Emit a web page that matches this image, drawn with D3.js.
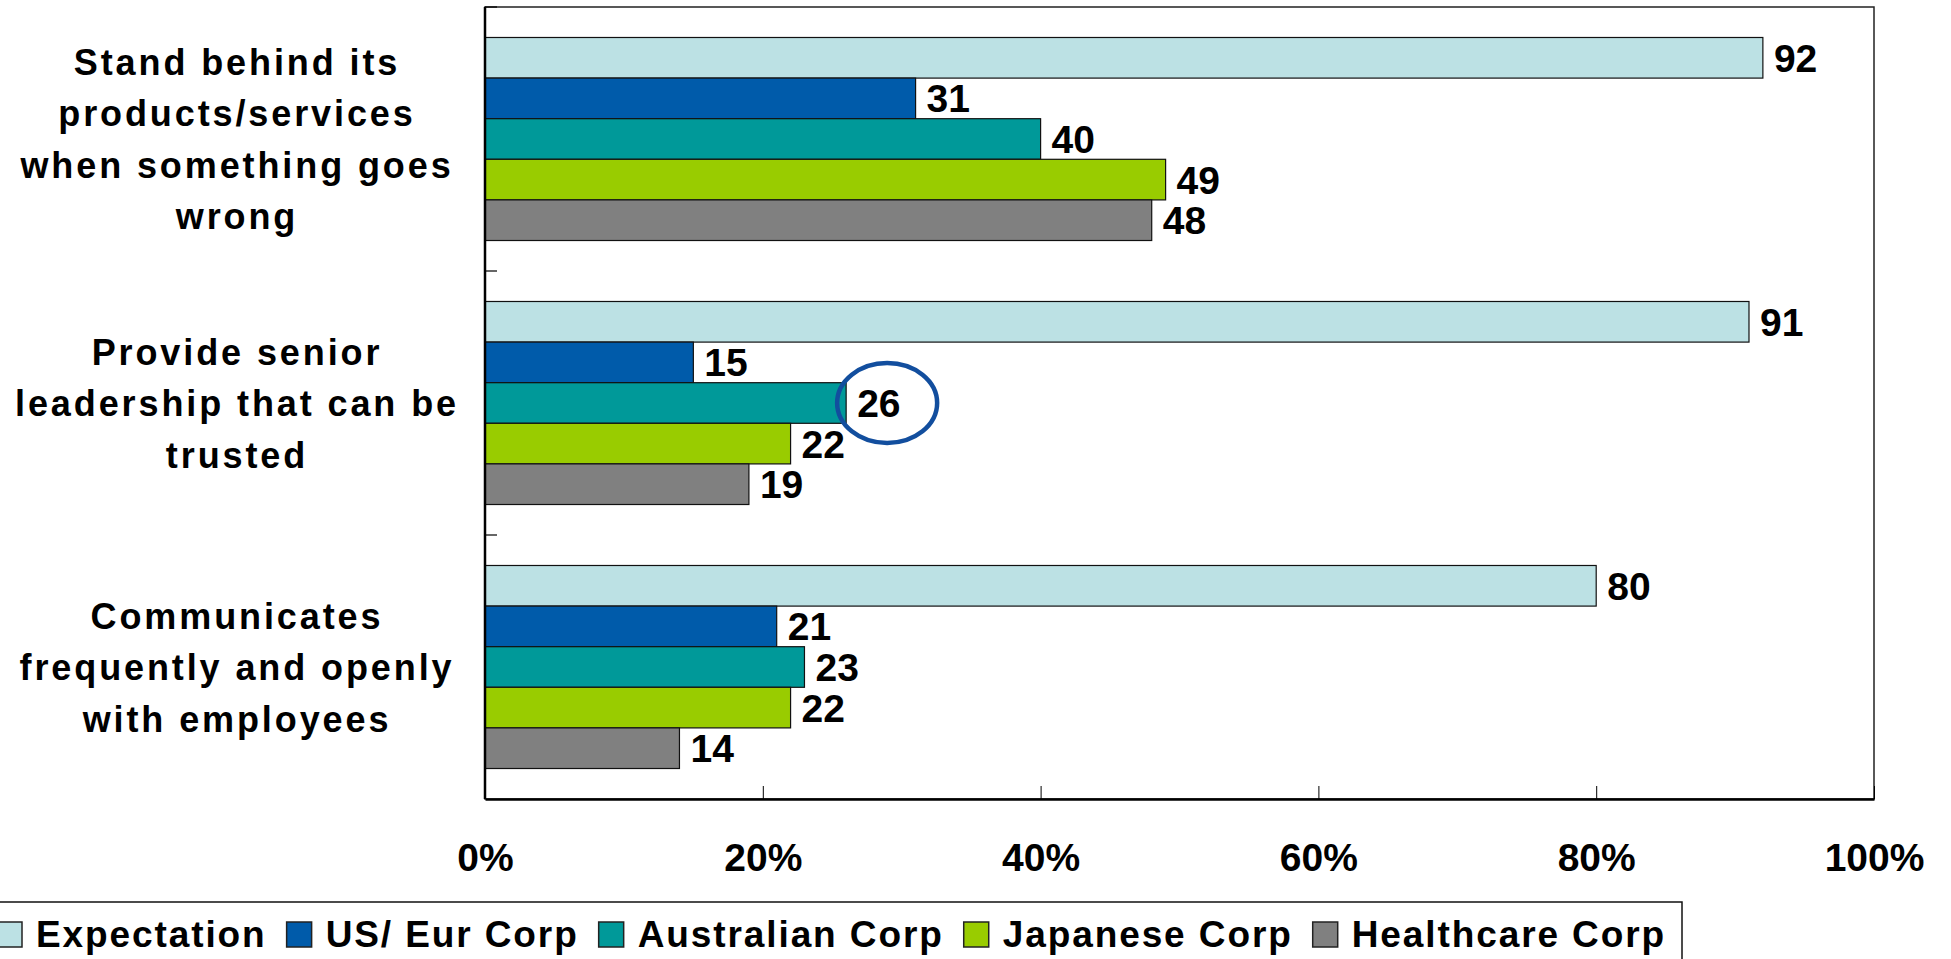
<!DOCTYPE html>
<html>
<head>
<meta charset="utf-8">
<script src="https://cdn.jsdelivr.net/npm/d3@7"></script>
<style>
    body { margin: 0; background: #fff; overflow: hidden; }
    svg { display: block; font-family: "Liberation Sans", Arial, sans-serif; font-weight: bold; }
</style>
</head>
<body>
<script>
// chart data
const categories = ['Stand behind its products/services when something goes wrong',
    'Provide senior leadership that can be trusted',
    'Communicates frequently and openly with employees'];
const categoryLines = [
    ['Stand behind its', 'products/services', 'when something goes', 'wrong'],
    ['Provide senior', 'leadership that can be', 'trusted'],
    ['Communicates', 'frequently and openly', 'with employees']
];
const series = ['Expectation', 'US/ Eur Corp', 'Australian Corp', 'Japanese Corp', 'Healthcare Corp'];
const expectation = [92, 91, 80];
const usEurCorp = [31, 15, 21];
const australianCorp = [40, 26, 23];
const japaneseCorp = [49, 22, 22];
const healthcareCorp = [48, 19, 14];
const xTicks = [0, 20, 40, 60, 80, 100];
const colors = ['#bce1e4', '#005baa', '#009999', '#99cc00', '#808080'];
// the circled value
const highlight = {category: 1, series: 2};

const values = [expectation, usEurCorp, australianCorp, japaneseCorp, healthcareCorp];

let width = 1951, height = 959;
let margin = {left: 485, right: 77, top: 7, bottom: 160};

const svg = d3.select('body').append('svg')
    .attr('width', width)
    .attr('height', height);

let x = d3.scaleLinear()
    .domain([0, 100])
    .range([margin.left, width - margin.right]);

let y = d3.scaleBand()
    .domain(d3.range(categories.length))
    .range([margin.top, height - margin.bottom])
    .paddingInner(0.231)
    .paddingOuter(0.1155);

let ySub = d3.scaleBand()
    .domain(d3.range(series.length))
    .range([0, y.bandwidth()]);

let rows = [];
categories.forEach((c, i) => {
    series.forEach((s, j) => {
        rows.push({cat: i, ser: j, value: values[j][i]});
    });
});

// plot frame
const plotTop = margin.top, plotBottom = height - margin.bottom;
svg.append('rect')
    .attr('x', x(0))
    .attr('y', plotTop)
    .attr('width', x(100) - x(0))
    .attr('height', plotBottom - plotTop)
    .attr('fill', 'white')
    .attr('stroke', '#222')
    .attr('stroke-width', 1.5);

// bars
svg.append('g')
    .selectAll('rect')
    .data(rows)
    .join('rect')
    .attr('x', x(0))
    .attr('y', d => y(d.cat) + ySub(d.ser))
    .attr('width', d => x(d.value) - x(0))
    .attr('height', ySub.bandwidth())
    .attr('fill', d => colors[d.ser])
    .attr('stroke', '#111')
    .attr('stroke-width', 1.2);

// value labels
svg.append('g')
    .style('font-size', '39px')
    .selectAll('text')
    .data(rows)
    .join('text')
    .attr('x', d => x(d.value) + 11)
    .attr('y', d => y(d.cat) + ySub(d.ser) + ySub.bandwidth() / 2 + 14)
    .attr('fill', '#000')
    .text(d => d.value);

// highlight ellipse
let hv = values[highlight.series][highlight.category];
svg.append('ellipse')
    .attr('cx', x(hv) + 41)
    .attr('cy', y(highlight.category) + ySub(highlight.series) + ySub.bandwidth() / 2)
    .attr('rx', 50)
    .attr('ry', 40)
    .attr('fill', 'none')
    .attr('stroke', '#124e9e')
    .attr('stroke-width', 4.5);

// x axis
const xAxis = svg.append('g')
    .attr('transform', `translate(0,${plotBottom})`)
    .call(d3.axisBottom(x).tickValues(xTicks).tickSizeInner(-13).tickSizeOuter(0).tickFormat(d => d + '%'));
xAxis.select('.domain').attr('stroke', '#000').attr('stroke-width', 2.5);
xAxis.selectAll('.tick line').attr('stroke', '#000').attr('stroke-width', 1);
xAxis.selectAll('.tick text')
    .attr('y', 0)
    .attr('dy', null)
    .attr('transform', 'translate(0,72)')
    .style('font-size', '39px')
    .style('font-family', '"Liberation Sans", Arial, sans-serif')
    .style('font-weight', 'bold')
    .attr('fill', '#000');

// y axis with ticks on the category boundaries
let boundaries = d3.range(categories.length + 1).map(i => plotTop + i * y.step());
svg.append('line')
    .attr('x1', x(0)).attr('x2', x(0))
    .attr('y1', plotTop).attr('y2', plotBottom)
    .attr('stroke', '#000')
    .attr('stroke-width', 2.5);
svg.append('g')
    .selectAll('line')
    .data(boundaries.slice(0, -1))
    .join('line')
    .attr('x1', x(0)).attr('x2', x(0) + 12)
    .attr('y1', d => d).attr('y2', d => d)
    .attr('stroke', '#000')
    .attr('stroke-width', 1.2);

// category labels
const lineHeight = 51.5;
const catLabel = svg.append('g')
    .style('font-size', '36px')
    .style('letter-spacing', '2.9px')
    .attr('text-anchor', 'middle')
    .selectAll('text')
    .data(categoryLines)
    .join('text')
    .attr('fill', '#000');
catLabel.each(function (lines, i) {
    let cy = y(i) + y.bandwidth() / 2;
    let first = cy - (lines.length - 1) * lineHeight / 2 + 13;
    d3.select(this).selectAll('tspan')
        .data(lines)
        .join('tspan')
        .attr('x', 237)
        .attr('y', (d, k) => first + k * lineHeight)
        .text(d => d);
});

// legend
const legend = svg.append('g');
legend.append('rect')
    .attr('x', -2)
    .attr('y', 902)
    .attr('width', 1684)
    .attr('height', 100)
    .attr('fill', 'white')
    .attr('stroke', '#111')
    .attr('stroke-width', 1.5);

let lx = -3;
series.forEach((s, j) => {
    legend.append('rect')
        .attr('x', lx)
        .attr('y', 922)
        .attr('width', 25)
        .attr('height', 25)
        .attr('fill', colors[j])
        .attr('stroke', '#222')
        .attr('stroke-width', 1.5);
    lx += 25 + 14;
    let t = legend.append('text')
        .attr('x', lx)
        .attr('y', 947)
        .style('font-size', '37px')
        .style('letter-spacing', '1.9px')
        .attr('fill', '#000')
        .text(s);
    lx += t.node().getComputedTextLength() + 20;
});
</script>
</body>
</html>
